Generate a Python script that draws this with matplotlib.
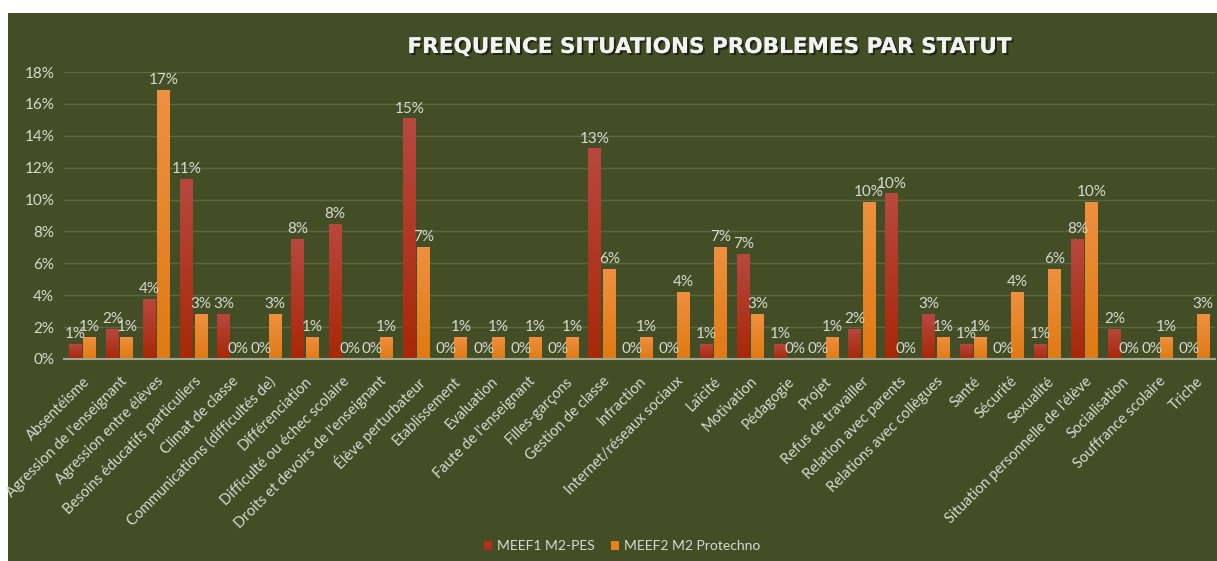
import matplotlib
matplotlib.use("Agg")
import matplotlib.pyplot as plt
import matplotlib.patheffects as pe
from matplotlib.patches import Rectangle
from matplotlib.colors import LinearSegmentedColormap
import numpy as np

categories = [
    "Absentéisme", "Agression de l'enseignant", "Agression entre élèves",
    "Besoins éducatifs particuliers", "Climat de classe",
    "Communications (difficultés de)", "Différenciation",
    "Difficulté ou échec scolaire", "Droits et devoirs de l'enseignant",
    "Élève perturbateur", "Etablissement", "Evaluation",
    "Faute de l'enseignant", "Filles-garçons", "Gestion de classe",
    "Infraction", "Internet/réseaux sociaux", "Laïcité", "Motivation",
    "Pédagogie", "Projet", "Refus de travailler", "Relation avec parents",
    "Relations avec collègues", "Santé", "Sécurité", "Sexualité",
    "Situation personnelle de l'élève", "Socialisation",
    "Souffrance scolaire", "Triche",
]
meef1 = [0.94, 1.89, 3.77, 11.32, 2.83, 0, 7.55, 8.49, 0, 15.09, 0, 0, 0, 0,
         13.21, 0, 0, 0.94, 6.60, 0.94, 0, 1.89, 10.38, 2.83, 0.94, 0, 0.94,
         7.55, 1.89, 0, 0]
meef2 = [1.41, 1.41, 16.90, 2.82, 0, 2.82, 1.41, 0, 1.41, 7.04, 1.41, 1.41,
         1.41, 1.41, 5.63, 1.41, 4.23, 7.04, 2.82, 0, 1.41, 9.86, 0, 1.41,
         1.41, 4.23, 5.63, 9.86, 0, 1.41, 2.82]
series_names = ["MEEF1 M2-PES", "MEEF2 M2 Protechno"]
yticks = [0, 2, 4, 6, 8, 10, 12, 14, 16, 18]
title = "FREQUENCE SITUATIONS PROBLEMES PAR STATUT"

BG = "#434E26"
TXT = "#D9D9D2"
RED = "#B0301A"
ORANGE = "#E8821C"
RED_GRAD = ["#B8483E", "#A82808"]
ORANGE_GRAD = ["#EE9040", "#E07A12"]

W, H = 1217, 561
fig = plt.figure(figsize=(W / 100, H / 100), dpi=100, facecolor="white")
fig.patches.append(Rectangle((8 / W, 0), 1 - 8 / W, 1 - 13 / H,
                             transform=fig.transFigure, facecolor=BG,
                             edgecolor="none", zorder=-10))

ax = fig.add_axes([63.9 / W, 202 / H, (1214.6 - 63.9) / W, (359 - 72) / H])
ax.set_facecolor("none")
x = np.arange(len(categories))
bw = 0.35
off = 0.195
b1 = ax.bar(x - off, meef1, bw, color=RED, label=series_names[0], zorder=3)
b2 = ax.bar(x + off, meef2, bw, color=ORANGE, label=series_names[1], zorder=3)

grad = np.linspace(1, 0, 64).reshape(-1, 1)
for bars, cols in ((b1, RED_GRAD), (b2, ORANGE_GRAD)):
    cmap = LinearSegmentedColormap.from_list("g", [cols[1], cols[0]])
    for rect in bars:
        h = rect.get_height()
        if h <= 0:
            continue
        x0 = rect.get_x()
        im = ax.imshow(grad, cmap=cmap, vmin=0, vmax=1, aspect="auto",
                       extent=[x0, x0 + rect.get_width(), 0, h],
                       zorder=3.5, interpolation="bilinear")
        im.set_clip_path(rect)

for bars, vals in ((b1, meef1), (b2, meef2)):
    for rect, v in zip(bars, vals):
        ax.annotate(f"{v:.0f}%", (rect.get_x() + rect.get_width() / 2, v),
                    xytext=(0, 2), textcoords="offset points",
                    ha="center", va="bottom", fontsize=11, color=TXT,
                    family="Lato", zorder=4)

ax.set_xlim(-0.5, len(categories) - 0.5)
ax.set_ylim(0, 18)
ax.set_yticks(yticks)
ax.set_yticklabels([f"{t}%" for t in yticks], color=TXT, fontsize=11,
                   family="Lato")
ax.set_xticks(x)
ax.set_xticklabels(categories, rotation=45, ha="right",
                   rotation_mode="anchor", color=TXT, fontsize=10.5,
                   family="Lato")
ax.tick_params(axis="x", length=0, pad=11)
ax.tick_params(axis="y", length=0, pad=7)
ax.grid(axis="y", color="#5E6840", linewidth=1, zorder=0)
ax.set_axisbelow(True)
for s in ("top", "right", "left"):
    ax.spines[s].set_visible(False)
ax.spines["bottom"].set_color("#A4A892")
ax.spines["bottom"].set_linewidth(1.5)
ax.spines["bottom"].set_zorder(5)

fig.text(710 / W, 1 - 47 / H, title, ha="center", va="center",
         fontsize=15.5, fontweight="bold", family="DejaVu Sans",
         color="#F2F2F2",
         path_effects=[pe.withSimplePatchShadow(offset=(1.5, -1.5),
                                                shadow_rgbFace="black",
                                                alpha=0.5), pe.Normal()])

leg = fig.legend(handles=[b1, b2], labels=series_names, loc="center",
                 bbox_to_anchor=(622 / W, 1 - 546 / H), ncol=2,
                 frameon=False, handlelength=0.6, handleheight=0.6,
                 handletextpad=0.3, columnspacing=1.2,
                 prop={"family": "Lato", "size": 10})
for t in leg.get_texts():
    t.set_color(TXT)

fig.savefig("out.png", dpi=100, facecolor="white")
